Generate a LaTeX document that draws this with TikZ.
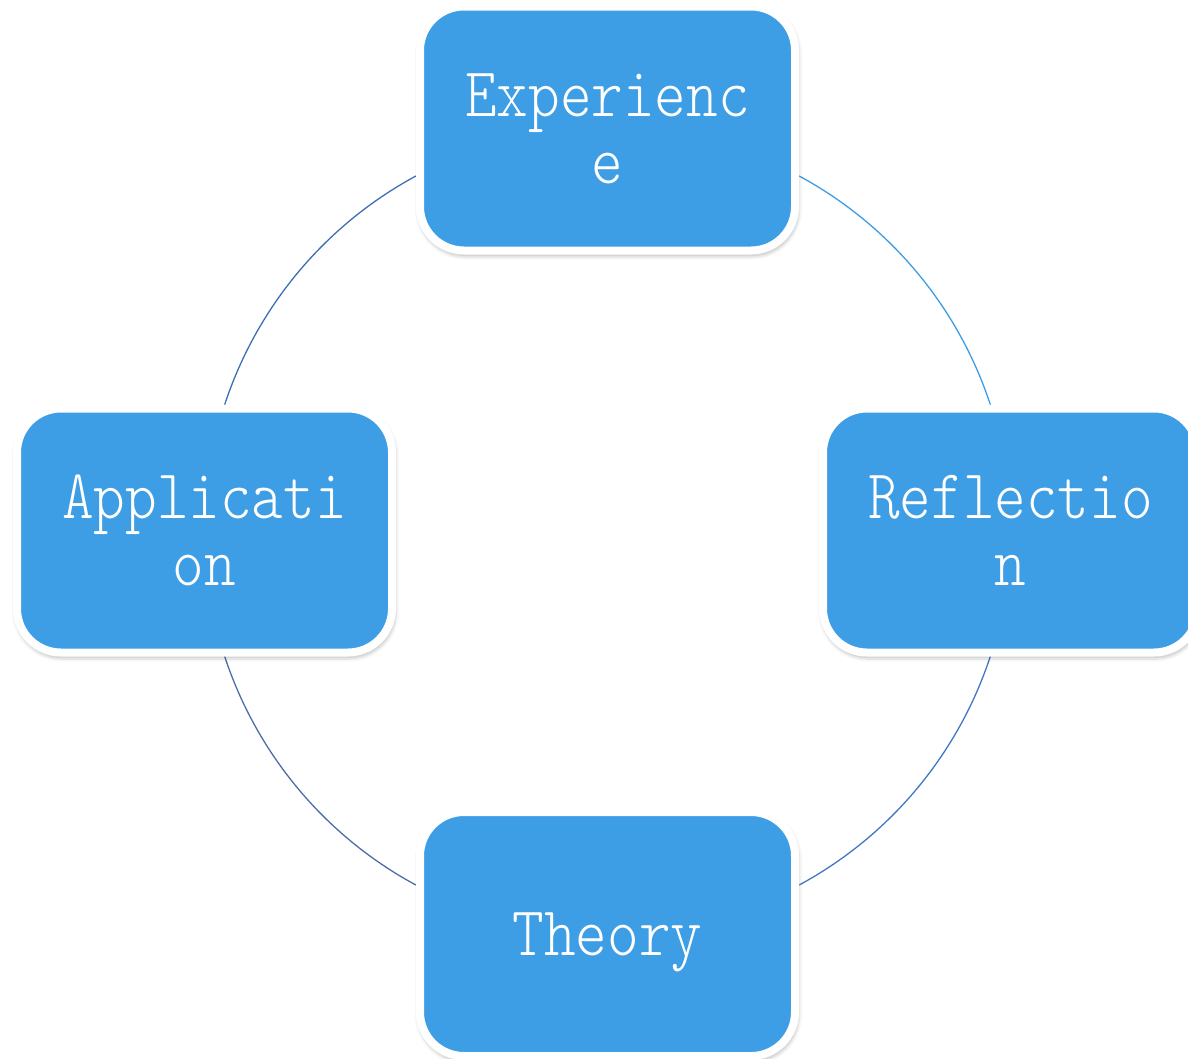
\documentclass[tikz,border=0pt]{standalone}
\usepackage{fontspec}
\newfontfamily\boxfont[FakeStretch=0.86]{Latin Modern Mono Light}
\usetikzlibrary{shadows.blur,backgrounds}
\definecolor{boxblue}{RGB}{61,157,229}
\definecolor{arcTL}{RGB}{62,110,180}
\definecolor{arcTR}{RGB}{61,157,229}
\definecolor{arcBR}{RGB}{65,120,195}
\definecolor{arcBL}{RGB}{75,110,170}
\tikzset{
  x=1pt,y=1pt,
  cyclebox/.style={draw=white, line width=8pt, fill=boxblue, rounded corners=44pt,
    minimum width=375pt, minimum height=244pt, inner sep=0pt, align=center,
    text=white, font={\boxfont\fontsize{70}{67}\selectfont},
    blur shadow={shadow xshift=1pt, shadow yshift=-3pt, shadow blur radius=6pt, shadow opacity=50}},
  cyclearc/.style={line width=1.3pt}
}
\begin{document}
\begin{tikzpicture}
\useasboundingbox (0,0) rectangle (1188,-1058);
\coordinate (c) at (607.5,-530.5);
\node[cyclebox] (exp) at (607.5,-128.5) {Experienc\\e};
\node[cyclebox] (ref) at (1010.5,-530.5) {Reflectio\\n};
\node[cyclebox, text depth=0pt] (the) at (607.5,-934) {Theory};
\node[cyclebox] (app) at (204.5,-530.5) {Applicati\\on};
\begin{scope}[on background layer]
  \draw[cyclearc, arcTR] ($(c)+(61.6:403)$) arc[start angle=61.6, end angle=18.1, radius=403];
  \draw[cyclearc, arcBR] ($(c)+(-18.1:403)$) arc[start angle=-18.1, end angle=-61.6, radius=403];
  \draw[cyclearc, arcBL] ($(c)+(-118.4:403)$) arc[start angle=-118.4, end angle=-161.9, radius=403];
  \draw[cyclearc, arcTL] ($(c)+(161.9:403)$) arc[start angle=161.9, end angle=118.4, radius=403];
\end{scope}
\end{tikzpicture}
\end{document}
